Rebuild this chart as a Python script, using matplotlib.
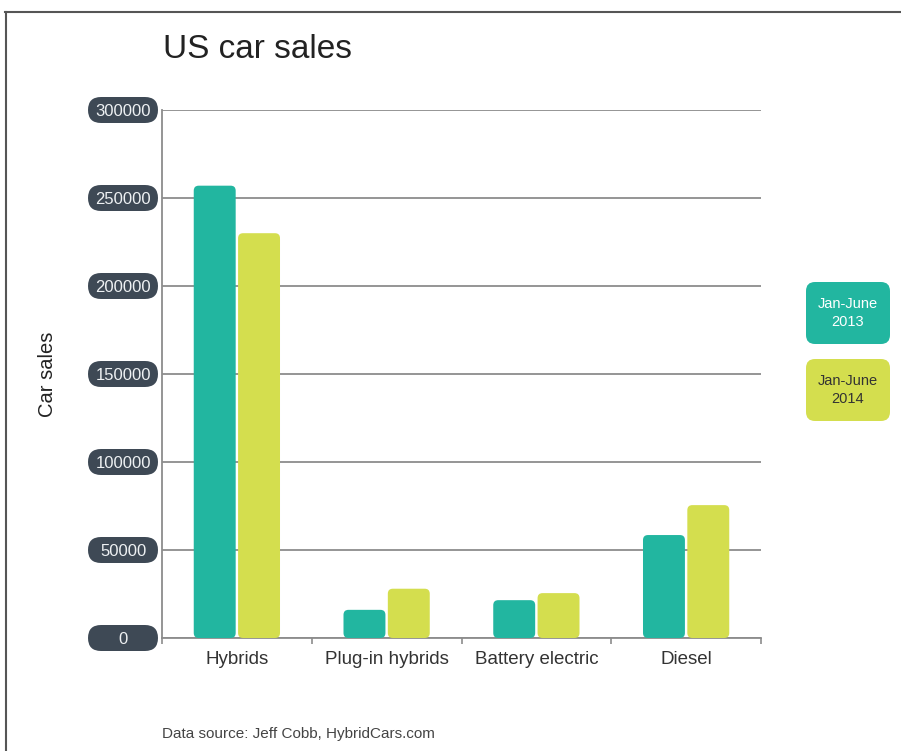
import matplotlib.pyplot as plt
import numpy as np
from matplotlib.patches import FancyBboxPatch
from matplotlib.lines import Line2D

plt.rcParams['font.family'] = ['Liberation Sans', 'DejaVu Sans']

categories = ['Hybrids', 'Plug-in hybrids', 'Battery electric', 'Diesel']
sales_2013 = [257000, 16000, 21500, 58500]
sales_2014 = [230000, 28000, 25500, 75500]
series_labels = ['Jan-June\n2013', 'Jan-June\n2014']
yticks = [0, 50000, 100000, 150000, 200000, 250000, 300000]

teal = '#22b6a0'
lime = '#d4de4e'
slate = '#3e4955'
grid_col = '#8c8c8c'

W, H = 901, 751
fig = plt.figure(figsize=(W / 100, H / 100), dpi=100)
ax_l, ax_b, ax_w, ax_h = 162 / W, 113 / H, 599 / W, 528 / H
ax = fig.add_axes([ax_l, ax_b, ax_w, ax_h])
ax.patch.set_alpha(0)

x = np.arange(len(categories))
bw = 0.28
b1 = ax.bar(x - 0.148, sales_2013, bw, color=teal, zorder=3)
b2 = ax.bar(x + 0.148, sales_2014, bw, color=lime, zorder=3)

ax.set_xlim(-0.5, 3.5)
ax.set_ylim(0, 300000)

# swap plain bars for rounded ones (same data coords)
xpx = 599 / 4.0
ypx = 528 / 300000.0
r = 5 / xpx
for bars, col in [(b1, teal), (b2, lime)]:
    for rect in bars:
        rect.set_visible(False)
        rb = FancyBboxPatch((rect.get_x(), rect.get_y()), rect.get_width(), rect.get_height(),
                            boxstyle=f"round,pad=0,rounding_size={r}",
                            mutation_aspect=xpx / ypx, fc=col, ec='none', zorder=3)
        ax.add_patch(rb)

ax.yaxis.grid(True, color=grid_col, lw=1.3, zorder=0)
ax.set_axisbelow(True)
for s in ['top', 'right']:
    ax.spines[s].set_visible(False)
for s in ['left', 'bottom']:
    ax.spines[s].set_color(grid_col)
    ax.spines[s].set_linewidth(1.3)

ax.set_xticks(x)
ax.set_xticklabels(categories, fontsize=13.5, color='#333333')
ax.set_xticks(np.arange(-0.5, 4, 1), minor=True)
ax.tick_params(axis='x', which='major', length=0, pad=9)
ax.tick_params(axis='x', which='minor', length=4, color=grid_col, width=1.2)

ax.set_yticks(yticks)
ax.set_yticklabels([str(v) for v in yticks], ha='center', fontsize=12, color='#eef1f3')
ax.tick_params(axis='y', length=0, pad=28)

# pill badges behind y tick labels
pw, ph = 70 / W, 26 / H
for v in yticks:
    yc = ax_b + v / 300000 * ax_h
    pill = FancyBboxPatch((88 / W, yc - ph / 2), pw, ph,
                          boxstyle=f"round,pad=0,rounding_size={13 / W}",
                          mutation_aspect=W / H, fc=slate, ec='none',
                          transform=fig.transFigure, zorder=-1)
    fig.add_artist(pill)

ax.set_ylabel('Car sales', fontsize=14.5, color='#222222', labelpad=0)
ax.yaxis.set_label_coords(-(162 - 57) / 599, 0.5)

fig.text(163 / W, 1 - 50 / H, 'US car sales', fontsize=24, color='#222222', va='center')
fig.text(162 / W, 1 - 734 / H, 'Data source: Jeff Cobb, HybridCars.com',
         fontsize=11, color='#444444', va='center')

# legend boxes
for lab, col, tcol, yc in [(series_labels[0], teal, 'white', 313), (series_labels[1], lime, '#333333', 390)]:
    bx = FancyBboxPatch((806 / W, 1 - (yc + 31) / H), 84 / W, 62 / H,
                        boxstyle=f"round,pad=0,rounding_size={9 / W}",
                        mutation_aspect=W / H, fc=col, ec='none',
                        transform=fig.transFigure)
    fig.add_artist(bx)
    fig.text(848 / W, 1 - yc / H, lab, ha='center', va='center', fontsize=10.5,
             color=tcol, linespacing=1.4)

# frame lines at top and left
fig.add_artist(Line2D([5 / W, 1], [1 - 12 / H, 1 - 12 / H], color='#555555', lw=1.5,
                      transform=fig.transFigure))
fig.add_artist(Line2D([5.5 / W, 5.5 / W], [0, 1 - 12 / H], color='#555555', lw=1.5,
                      transform=fig.transFigure))

fig.savefig('out.png', dpi=100)
